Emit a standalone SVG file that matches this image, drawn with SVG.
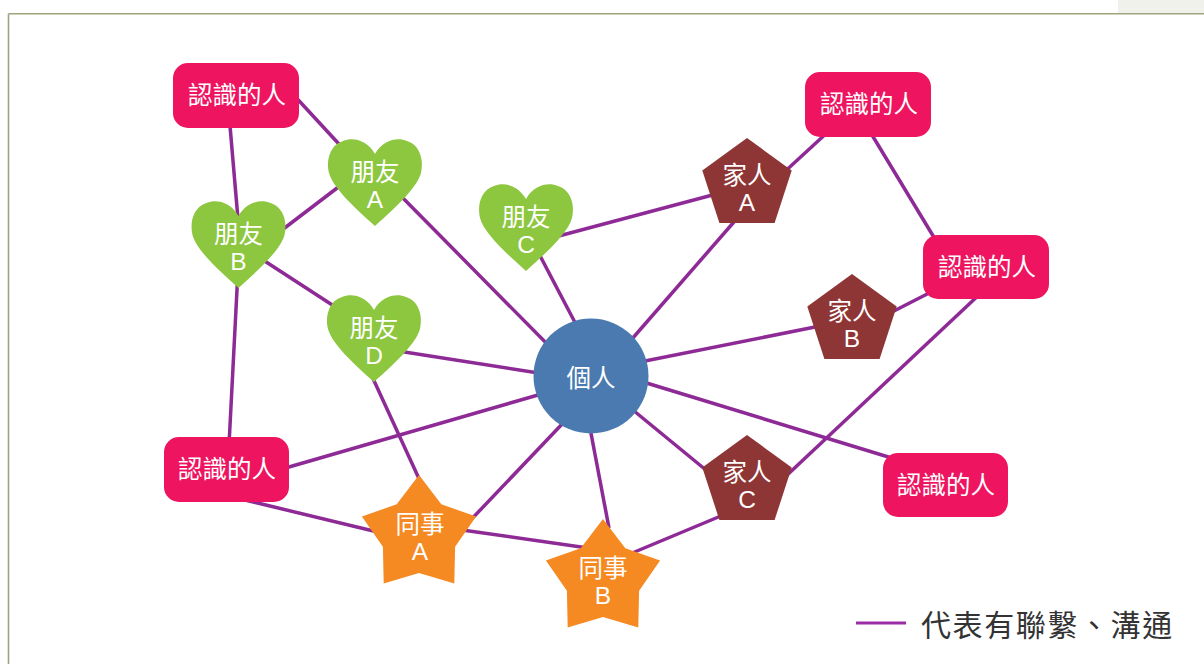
<svg xmlns="http://www.w3.org/2000/svg" width="1204" height="664" viewBox="0 0 1204 664">
<defs>
<style>
text{font-family:"Noto Sans CJK TC","Noto Sans CJK SC","Liberation Sans",sans-serif;fill:#ffffff;text-anchor:middle}
.lat{font-family:"Liberation Sans","Noto Sans CJK TC",sans-serif;font-size:24.5px}
.lbl{font-size:24.5px}
.rect{fill:#ee1460}
.heart{fill:#8dc63f}
.pent{fill:#8e3535}
.star{fill:#f58a23}
.conn line{stroke:#8e2a96;stroke-width:3.5;stroke-linecap:butt}
</style>
<path id="heartShape" d="M0,-26 C-8,-40 -22,-43 -32,-39 C-45,-35 -49,-20 -46,-7 C-42,8 -20,28 0,46 C20,28 42,8 46,-7 C49,-20 45,-35 32,-39 C22,-43 8,-40 0,-26 Z"/>
<polygon id="pentShape" points="0,-47 44.7,-14.5 27.6,38 -27.6,38 -44.7,-14.5"/>
<polygon id="starShape" points="0,-60 22.3,-30.7 57.1,-18.5 36.1,11.7 35.3,48.5 0,38 -35.3,48.5 -36.1,11.7 -57.1,-18.5 -22.3,-30.7"/>
</defs>
<rect x="0" y="0" width="1204" height="664" fill="#ffffff"/>
<rect x="1118" y="0" width="86" height="13" fill="#eff1ea"/>
<g id="frame" fill="none" stroke="#9ba67c" stroke-width="1.6">
<line x1="8.5" y1="13.8" x2="1204" y2="13.8"/>
<line x1="8.5" y1="13.8" x2="8.5" y2="664"/>
</g>
<g id="connectors" class="conn">
<line x1="290" y1="91" x2="350" y2="156"/>
<line x1="229.5" y1="120" x2="238.5" y2="225"/>
<line x1="278" y1="233" x2="345" y2="182"/>
<line x1="260" y1="258" x2="340" y2="310"/>
<line x1="237.5" y1="280" x2="229" y2="445"/>
<line x1="395" y1="190" x2="560" y2="357"/>
<line x1="555" y1="237" x2="720" y2="193"/>
<line x1="537" y1="250" x2="580" y2="332"/>
<line x1="740" y1="215" x2="625" y2="347"/>
<line x1="780" y1="176" x2="830" y2="130"/>
<line x1="869" y1="130" x2="938" y2="244"/>
<line x1="890" y1="313" x2="935" y2="290"/>
<line x1="640" y1="362" x2="820" y2="326"/>
<line x1="982" y1="292" x2="785" y2="477"/>
<line x1="628" y1="406" x2="712" y2="475"/>
<line x1="640" y1="381" x2="895" y2="459"/>
<line x1="282" y1="469" x2="545" y2="393"/>
<line x1="245" y1="500" x2="390" y2="535"/>
<line x1="370" y1="372" x2="421" y2="483"/>
<line x1="398" y1="351" x2="545" y2="374"/>
<line x1="465" y1="526" x2="565" y2="421"/>
<line x1="590" y1="428" x2="609" y2="528"/>
<line x1="455" y1="529" x2="595" y2="549"/>
<line x1="625" y1="556" x2="728" y2="513"/>
</g>
<g id="person">
<circle cx="591" cy="376" r="57.5" fill="#4a7aaf"/>
<text x="591" y="387" class="lbl">個人</text>
</g>
<g id="acq-tl">
<rect class="rect" x="173" y="63" width="126" height="65" rx="15"/>
<text x="237" y="104" class="lbl">認識的人</text>
</g>
<g id="acq-tr">
<rect class="rect" x="805" y="72" width="126" height="65" rx="15"/>
<text x="869" y="113" class="lbl">認識的人</text>
</g>
<g id="acq-r">
<rect class="rect" x="923" y="235" width="126" height="64" rx="15"/>
<text x="987" y="276" class="lbl">認識的人</text>
</g>
<g id="acq-l">
<rect class="rect" x="164" y="437" width="125" height="65" rx="15"/>
<text x="227" y="478" class="lbl">認識的人</text>
</g>
<g id="acq-br">
<rect class="rect" x="883" y="453" width="125" height="64" rx="15"/>
<text x="946" y="494" class="lbl">認識的人</text>
</g>
<g id="friend-a">
<use href="#heartShape" class="heart" x="375" y="180"/>
<text class="lbl"><tspan x="375" y="181">朋友</tspan><tspan class="lat" x="375" y="208">A</tspan></text>
</g>
<g id="friend-b">
<use href="#heartShape" class="heart" x="238.5" y="242"/>
<text class="lbl"><tspan x="238.5" y="243">朋友</tspan><tspan class="lat" x="238.5" y="270">B</tspan></text>
</g>
<g id="friend-c">
<use href="#heartShape" class="heart" x="526" y="225"/>
<text class="lbl"><tspan x="526" y="226">朋友</tspan><tspan class="lat" x="526" y="253">C</tspan></text>
</g>
<g id="friend-d">
<use href="#heartShape" class="heart" x="374" y="336"/>
<text class="lbl"><tspan x="374" y="337">朋友</tspan><tspan class="lat" x="374" y="364">D</tspan></text>
</g>
<g id="family-a">
<use href="#pentShape" class="pent" x="747" y="185"/>
<text class="lbl"><tspan x="747" y="184">家人</tspan><tspan class="lat" x="747" y="211">A</tspan></text>
</g>
<g id="family-b">
<use href="#pentShape" class="pent" x="852" y="321"/>
<text class="lbl"><tspan x="852" y="320">家人</tspan><tspan class="lat" x="852" y="347">B</tspan></text>
</g>
<g id="family-c">
<use href="#pentShape" class="pent" x="747" y="482"/>
<text class="lbl"><tspan x="747" y="481">家人</tspan><tspan class="lat" x="747" y="508">C</tspan></text>
</g>
<g id="colleague-a">
<use href="#starShape" class="star" x="419" y="535"/>
<text class="lbl"><tspan x="420" y="533">同事</tspan><tspan class="lat" x="420" y="560">A</tspan></text>
</g>
<g id="colleague-b">
<use href="#starShape" class="star" x="603" y="579"/>
<text class="lbl"><tspan x="603" y="577">同事</tspan><tspan class="lat" x="603" y="604">B</tspan></text>
</g>
<g id="legend">
<line x1="856" y1="623" x2="906" y2="623" stroke="#9b2ea6" stroke-width="3"/>
<text x="921" y="636" font-size="30" letter-spacing="1.6" style="fill:#333333;text-anchor:start">代表有聯繫、溝通</text>
</g>
</svg>
